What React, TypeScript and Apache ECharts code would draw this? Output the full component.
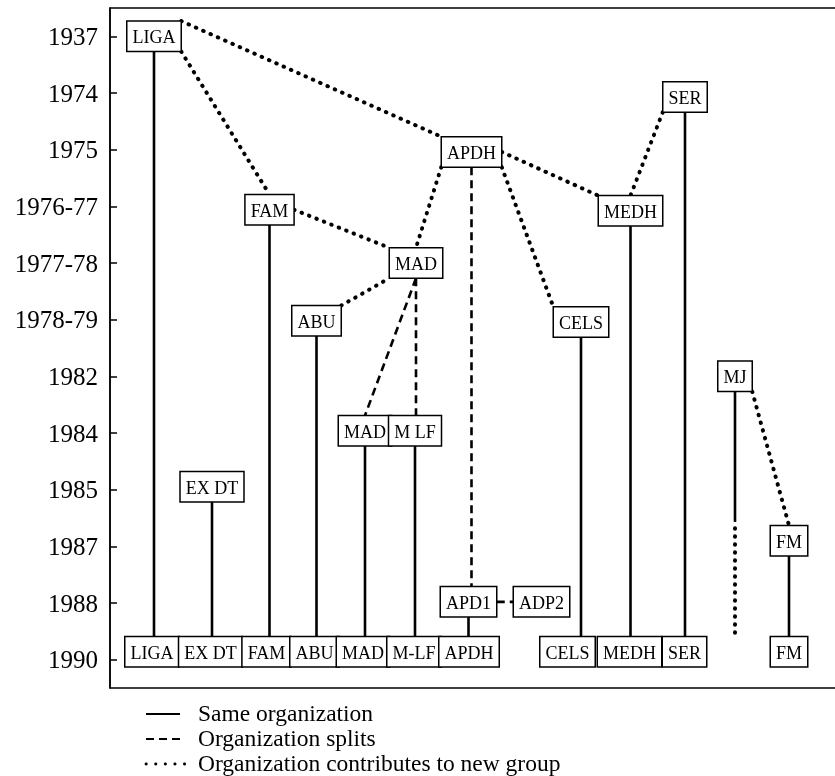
import React, { useEffect, useRef } from 'react';
import * as echarts from 'echarts';

const FONT = '"Liberation Serif", "Times New Roman", serif';

// Y-axis categories (top to bottom)
const years = ['1937', '1974', '1975', '1976-77', '1977-78', '1978-79', '1982', '1984', '1985', '1987', '1988', '1990'];

// Organisation nodes: label, horizontal column position, vertical position (year index)
const nodeLabels = [
  'LIGA', 'SER', 'APDH', 'FAM', 'MEDH', 'MAD', 'ABU', 'CELS', 'MJ', 'MAD', 'M LF', 'EX DT', 'FM', 'APD1', 'ADP2',
  'LIGA', 'EX DT', 'FAM', 'ABU', 'MAD', 'M-LF', 'APDH', 'CELS', 'MEDH', 'SER', 'FM',
  '', '', '',
];
const nodeX = [
  4.4, 57.5, 36.15, 15.95, 52.05, 30.6, 20.65, 47.1, 62.5, 25.5, 30.5, 10.2, 67.9, 35.85, 43.15,
  4.2, 10.05, 15.65, 20.45, 25.3, 30.4, 35.9, 45.75, 51.95, 57.45, 67.9,
  62.5, 62.5, 62.5,
];
const nodeY = [
  0, 1.07, 2.04, 3.06, 3.08, 4.0, 5.02, 5.04, 6.0, 6.96, 6.96, 7.95, 8.9, 9.98, 9.98,
  10.86, 10.86, 10.86, 10.86, 10.86, 10.86, 10.86, 10.86, 10.86, 10.86, 10.86,
  8.57, 8.68, 10.58,
];

// Links between nodes
const linkFrom = [0, 11, 3, 6, 9, 10, 13, 7, 4, 1, 12, 8, 27, 2, 5, 5, 13, 0, 0, 3, 2, 2, 2, 1, 6, 8];
const linkTo = [15, 16, 17, 18, 19, 20, 21, 22, 23, 24, 25, 26, 28, 13, 9, 10, 14, 2, 3, 5, 5, 7, 4, 4, 5, 12];
const linkFromAnchor = ['b', 'b', 'b', 'b', 'b', 'b', 'b', 'b', 'b', 'b', 'b', 'b', 'c', 'b', 'b', 'b', 'r', 'tr', 'br', 'r', 'bl', 'br', 'r', 'bl', 'tr', 'br'];
const linkToAnchor = ['vt', 'vt', 'vt', 'vt', 'vt', 'vt', 'vt', 'vt', 'vt', 'vt', 'vt', 'vt', 'vt', 'vt', 't', 'vt', 'l', 'tl', 't', 'tl', 't', 'tl', 'tl', 't', 'bl', 't'];
const linkKind = [
  'solid', 'solid', 'solid', 'solid', 'solid', 'solid', 'solid', 'solid', 'solid', 'solid', 'solid', 'solid',
  'dotted', 'dashed', 'dashed', 'dashed', 'dashed',
  'dotted', 'dotted', 'dotted', 'dotted', 'dotted', 'dotted', 'dotted', 'dotted', 'dotted',
];

const legendLabels = ['Same organization', 'Organization splits', 'Organization contributes to new group'];

const PADX = 5;
const PADY = 5;
const LINE_H = 19;

const lineStyles: Record<string, any> = {
  solid: { stroke: '#000', lineWidth: 2.6 },
  dashed: { stroke: '#000', lineWidth: 2.6, lineDash: [8, 5] },
  dotted: { stroke: '#000', lineWidth: 4, lineDash: [0.5, 7.5], lineCap: 'round' },
};

export default function App() {
  const ref = useRef<HTMLDivElement>(null);
  useEffect(() => {
    const chart = echarts.init(ref.current!, null, { renderer: 'svg' });
    const canvas = document.createElement('canvas');
    const ctx = canvas.getContext('2d')!;
    ctx.font = `18px ${FONT}`;
    const halfW = nodeLabels.map((l) => (l ? ctx.measureText(l).width / 2 + PADX + 0.75 : 0));
    const halfH = nodeLabels.map((l) => (l ? LINE_H / 2 + PADY + 0.75 : 0));

    const anchorPt = (api: any, i: number, a: string, fromPt?: number[]) => {
      const c = api.coord([nodeX[i], nodeY[i]]);
      const w = halfW[i];
      const h = halfH[i];
      switch (a) {
        case 't': return [c[0], c[1] - h];
        case 'b': return [c[0], c[1] + h];
        case 'l': return [c[0] - w, c[1]];
        case 'r': return [c[0] + w, c[1]];
        case 'tl': return [c[0] - w, c[1] - h];
        case 'tr': return [c[0] + w, c[1] - h];
        case 'bl': return [c[0] - w, c[1] + h];
        case 'br': return [c[0] + w, c[1] + h];
        case 'vt': return [fromPt ? fromPt[0] : c[0], c[1] - h];
        default: return c;
      }
    };

    const labeled = nodeLabels.map((l, i) => i).filter((i) => nodeLabels[i] !== '');

    const legendY = [713, 738, 763];
    const legendKinds = ['solid', 'dashed', 'dotted'];

    chart.setOption({
      animation: false,
      grid: {
        left: 110,
        top: 8,
        width: 760,
        height: 680,
        show: true,
        borderColor: '#000',
        borderWidth: 1.5,
        backgroundColor: 'transparent',
        containLabel: false,
        outerBoundsMode: 'none',
      },
      xAxis: { type: 'value', min: 0, max: 76, show: false },
      yAxis: [
        {
          type: 'category',
          data: years,
          inverse: true,
          axisLine: { show: true, lineStyle: { color: '#000', width: 1.5 } },
          axisTick: { show: true, inside: true, length: 7, alignWithLabel: true, lineStyle: { color: '#000', width: 1.5 } },
          axisLabel: { color: '#000', fontSize: 25, fontFamily: FONT, margin: 12 },
          splitLine: { show: false },
        },
        { type: 'value', min: -0.5, max: 11.5, inverse: true, show: false },
      ],
      graphic: [
        ...legendKinds.map((k, i) => ({
          type: 'line',
          shape: { x1: 146, y1: legendY[i] + 1, x2: k === 'dotted' ? 194 : 180, y2: legendY[i] + 1 },
          style: k === 'dotted'
            ? { stroke: '#000', lineWidth: 2.8, lineDash: [0.3, 9.3], lineCap: 'round' }
            : { ...lineStyles[k], lineWidth: 2.2 },
        })),
        ...legendLabels.map((t, i) => ({
          type: 'text',
          x: 198,
          y: legendY[i],
          style: { text: t, fill: '#000', fontSize: 23.5, fontFamily: FONT, verticalAlign: 'middle', align: 'left' },
        })),
      ],
      series: [
        {
          type: 'custom',
          coordinateSystem: 'cartesian2d',
          xAxisIndex: 0,
          yAxisIndex: 1,
          silent: true,
          clip: false,
          z: 2,
          data: linkFrom.map((f, i) => [nodeX[f], nodeY[f], i]),
          renderItem: (params: any, api: any) => {
            const i = api.value(2);
            const p1 = anchorPt(api, linkFrom[i], linkFromAnchor[i]);
            const p2 = anchorPt(api, linkTo[i], linkToAnchor[i], p1);
            return {
              type: 'line',
              shape: { x1: p1[0], y1: p1[1], x2: p2[0], y2: p2[1] },
              style: { ...lineStyles[linkKind[i]], fill: null },
            };
          },
        },
        {
          type: 'custom',
          coordinateSystem: 'cartesian2d',
          xAxisIndex: 0,
          yAxisIndex: 1,
          silent: true,
          clip: false,
          z: 3,
          data: labeled.map((i) => [nodeX[i], nodeY[i], i]),
          renderItem: (params: any, api: any) => {
            const i = api.value(2);
            const c = api.coord([nodeX[i], nodeY[i]]);
            const w = halfW[i];
            const h = halfH[i];
            return {
              type: 'group',
              children: [
                {
                  type: 'rect',
                  shape: { x: c[0] - w, y: c[1] - h, width: 2 * w, height: 2 * h },
                  style: { fill: '#fff', stroke: '#000', lineWidth: 1.5 },
                },
                {
                  type: 'text',
                  x: c[0],
                  y: c[1] + 1,
                  style: {
                    text: nodeLabels[i],
                    fill: '#000',
                    fontSize: 18,
                    fontFamily: FONT,
                    align: 'center',
                    verticalAlign: 'middle',
                  },
                },
              ],
            };
          },
        },
      ],
    });
    return () => chart.dispose();
  }, []);
  return <div ref={ref} style={{ position: 'fixed', left: 0, top: 0, width: 835, height: 776 }} />;
}
